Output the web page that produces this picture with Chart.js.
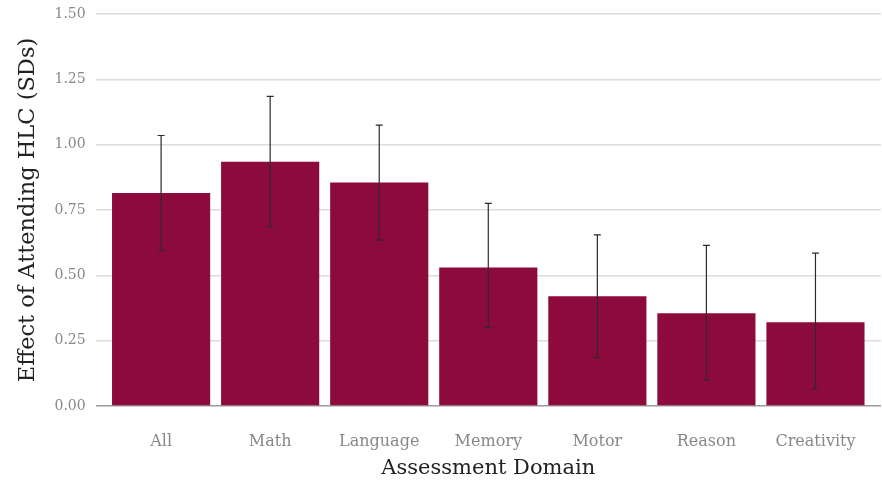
<!DOCTYPE html>
<html>
<head>
<meta charset="utf-8">
<script src="https://cdn.jsdelivr.net/npm/chart.js@4"></script>
<style>
  html, body { margin: 0; padding: 0; background: #fff; }
  #wrap { width: 882px; height: 482px; }
</style>
</head>
<body>
<div id="wrap"><canvas id="chart"></canvas></div>
<script>
const domains = ["All", "Math", "Language", "Memory", "Motor", "Reason", "Creativity"];
const effect = [0.815, 0.935, 0.855, 0.53, 0.42, 0.355, 0.32];
const lower = [0.595, 0.685, 0.635, 0.30, 0.185, 0.10, 0.065];
const upper = [1.035, 1.185, 1.075, 0.775, 0.655, 0.615, 0.585];
const yTicks = [0, 0.25, 0.5, 0.75, 1.0, 1.25, 1.5];

const serif = "'DejaVu Serif', serif";

// whiskers on top of the bars
const errorBars = {
  id: "errorBars",
  afterDatasetsDraw(chart) {
    const { ctx, scales: { x, y } } = chart;
    ctx.save();
    ctx.strokeStyle = "#2b2b2b";
    ctx.lineWidth = 1.2;
    domains.forEach((d, i) => {
      const px = x.getPixelForValue(i);
      const top = y.getPixelForValue(upper[i]);
      const bot = y.getPixelForValue(lower[i]);
      ctx.beginPath();
      ctx.moveTo(px, top); ctx.lineTo(px, bot);
      ctx.moveTo(px - 3.5, top); ctx.lineTo(px + 3.5, top);
      ctx.moveTo(px - 3.5, bot); ctx.lineTo(px + 3.5, bot);
      ctx.stroke();
    });
    ctx.restore();
  }
};

new Chart(document.getElementById("chart"), {
  type: "bar",
  data: {
    datasets: [{
      data: effect.map((v, i) => ({ x: i, y: v })),
      backgroundColor: "#8c0b3c",
      categoryPercentage: 1,
      barPercentage: 0.9
    }]
  },
  options: {
    responsive: true,
    maintainAspectRatio: false,
    animation: false,
    layout: { padding: { top: 0, right: 0, left: 14.5, bottom: 0.4 } },
    plugins: { legend: { display: false }, tooltip: { enabled: false } },
    scales: {
      x: {
        type: "linear",
        offset: false,
        min: -0.6,
        max: 6.6,
        afterBuildTicks: s => { s.ticks = domains.map((d, i) => ({ value: i })); },
        ticks: {
          callback: v => domains[v],
          color: "#888",
          font: { family: serif, size: 16 },
          padding: 26.5,
          maxRotation: 0
        },
        grid: { display: false, drawTicks: false },
        border: { display: false },
        title: {
          display: true,
          text: "Assessment Domain",
          color: "#222",
          font: { family: serif, size: 21 },
          padding: { top: -21.8, bottom: 0 }
        }
      },
      y: {
        min: 0,
        max: 1.5,
        afterBuildTicks: s => { s.ticks = yTicks.map(v => ({ value: v })); },
        afterFit: s => { s.paddingTop = 14; },
        ticks: {
          callback: v => v.toFixed(2),
          color: "#888",
          font: { family: serif, size: 14 },
          padding: 10
        },
        grid: {
          color: c => c.tick && c.tick.value === 0 ? "#9a9a9a" : "#dcdcdc",
          lineWidth: 1.4,
          drawTicks: false
        },
        border: { display: false },
        title: {
          display: true,
          text: "Effect of Attending HLC (SDs)",
          color: "#222",
          font: { family: serif, size: 22.5 },
          padding: { top: 0, bottom: 3 }
        }
      }
    }
  },
  plugins: [errorBars]
});
</script>
</body>
</html>
